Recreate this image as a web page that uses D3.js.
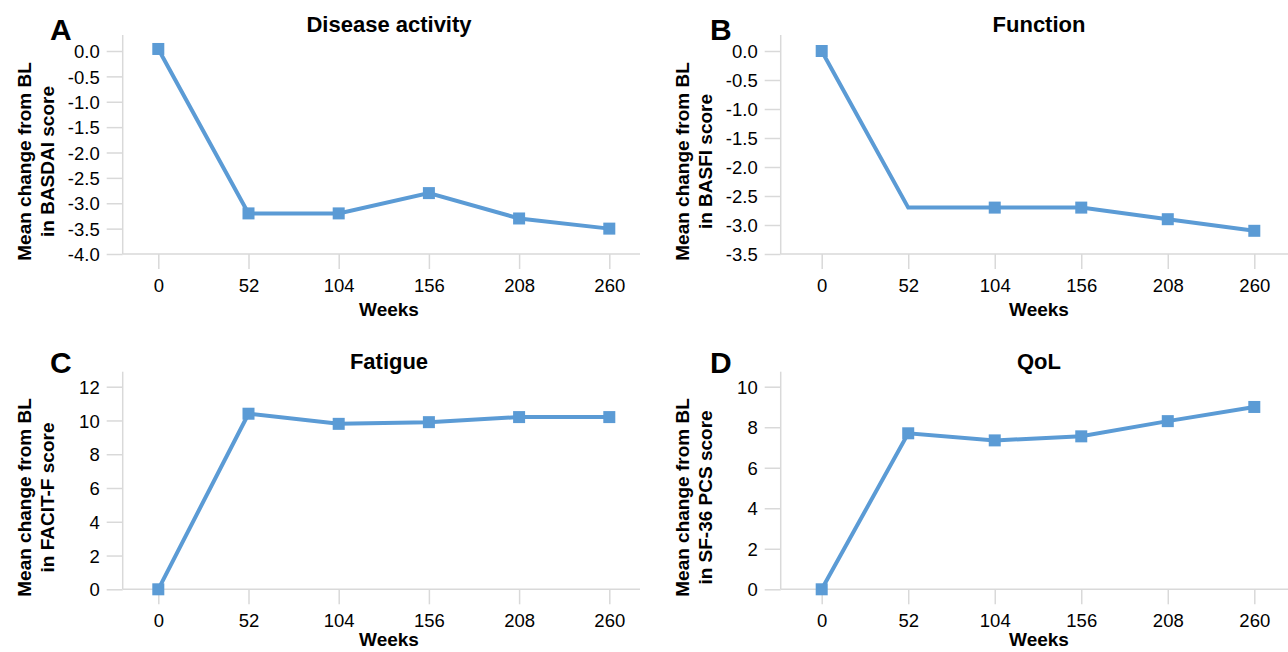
<!DOCTYPE html>
<html>
<head>
<meta charset="utf-8">
<script src="https://cdn.jsdelivr.net/npm/d3@7"></script>
<style>
body { margin: 0; background: #fff; }
svg { display: block; font-family: "Liberation Sans", Arial, sans-serif; }
</style>
</head>
<body>
<script>
// data
var weeks = [0, 52, 104, 156, 208, 260];
var basdai = [0.04, -3.2, -3.2, -2.8, -3.3, -3.5];
var basfi = [0, -2.7, -2.7, -2.7, -2.9, -3.1];
var facit = [0, 10.4, 9.8, 9.9, 10.2, 10.2];
var sf36 = [0, 7.7, 7.35, 7.55, 8.3, 9.0];
// panel B has no marker at week 52
var basfiMarkers = [true, false, true, true, true, true];

var basdaiTicks = [-4, -3.5, -3, -2.5, -2, -1.5, -1, -0.5, 0];
var basfiTicks = [-3.5, -3, -2.5, -2, -1.5, -1, -0.5, 0];
var facitTicks = [0, 2, 4, 6, 8, 10, 12];
var sf36Ticks = [0, 2, 4, 6, 8, 10];

var letters = ["A", "B", "C", "D"];
var titles = ["Disease activity", "Function", "Fatigue", "QoL"];
var yTitles = [
	["Mean change from BL", "in BASDAI score"],
	["Mean change from BL", "in BASFI score"],
	["Mean change from BL", "in FACIT-F score"],
	["Mean change from BL", "in SF-36 PCS score"]
];

var blue = "#5b9bd5";
var grey = "#d9d9d9";

var W = 1288, H = 652;
var svg = d3.select("body").append("svg").attr("width", W).attr("height", H);

function fmt1(d) { return d.toFixed(1); }
function fmt0(d) { return String(d); }

//panel geometry (left column / right column, top row / bottom row)
var cols = [
	{ axisX: 122.7, x0: 158.3, x1: 609.3, right: 640, cx: 389, letterX: 50 },
	{ axisX: 780.7, x0: 821.7, x1: 1254.3, right: 1288, cx: 1039, letterX: 710 }
];
var rows = [
	{ bottom: 254, topTick: 51, top: 35, titleY: 31.7, letterY: 40, weeksY: 316 },
	{ bottom: 589.3, topTick: 386.7, top: 371.7, titleY: 369.3, letterY: 373, weeksY: 646 }
];

var panels = [
	{ values: basdai, ticks: basdaiTicks, fmt: fmt1, markers: null, col: 0, row: 0 },
	{ values: basfi, ticks: basfiTicks, fmt: fmt1, markers: basfiMarkers, col: 1, row: 0 },
	{ values: facit, ticks: facitTicks, fmt: fmt0, markers: null, col: 0, row: 1 },
	{ values: sf36, ticks: sf36Ticks, fmt: fmt0, markers: null, col: 1, row: 1 }
];

panels.forEach(function(p, i) {
	var c = cols[p.col], r = rows[p.row];
	var g = svg.append("g");

	var x = d3.scaleLinear().domain([0, 260]).range([c.x0, c.x1]);
	var y = d3.scaleLinear().domain([p.ticks[0], p.ticks[p.ticks.length - 1]]).range([r.bottom, r.topTick]);

	//axis lines
	g.append("line").attr("x1", c.axisX).attr("x2", c.axisX).attr("y1", r.top).attr("y2", r.bottom)
		.attr("stroke", grey).attr("stroke-width", 1.5);
	g.append("line").attr("x1", c.axisX).attr("x2", c.right).attr("y1", r.bottom).attr("y2", r.bottom)
		.attr("stroke", grey).attr("stroke-width", 1.5);

	//y axis
	var ya = g.append("g").attr("transform", "translate(" + c.axisX + ",0)")
		.call(d3.axisLeft(y).tickValues(p.ticks).tickFormat(p.fmt).tickSize(16).tickPadding(7));
	ya.select(".domain").remove();
	ya.selectAll(".tick line").attr("stroke", grey).attr("stroke-width", 1.5);
	ya.selectAll(".tick text").attr("fill", "#000").style("font-size", "18.5px")
		.style("font-family", "'Liberation Sans', Arial, sans-serif").attr("dy", "0.36em");

	//x axis
	var xa = g.append("g").attr("transform", "translate(0," + r.bottom + ")")
		.call(d3.axisBottom(x).tickValues(weeks).tickFormat(fmt0).tickSize(15).tickPadding(10));
	xa.select(".domain").remove();
	xa.selectAll(".tick line").attr("stroke", grey).attr("stroke-width", 1.5);
	xa.selectAll(".tick text").attr("fill", "#000").style("font-size", "18.5px")
		.style("font-family", "'Liberation Sans', Arial, sans-serif");

	//axis titles
	g.append("text").attr("x", c.cx).attr("y", r.weeksY).attr("text-anchor", "middle")
		.style("font-size", "19px").style("font-weight", "bold").text("Weeks");

	var cy = (r.top + r.bottom) / 2 + 17;
	var yt = g.append("g").attr("transform", "translate(0," + cy + ") rotate(-90)");
	yt.append("text").attr("x", 0).attr("y", c.axisX - 92).attr("text-anchor", "middle")
		.style("font-size", "19px").style("font-weight", "bold").text(yTitles[i][0]);
	yt.append("text").attr("x", 0).attr("y", c.axisX - 69).attr("text-anchor", "middle")
		.style("font-size", "19px").style("font-weight", "bold").text(yTitles[i][1]);

	//title and panel letter
	g.append("text").attr("x", c.cx).attr("y", r.titleY).attr("text-anchor", "middle")
		.style("font-size", "22px").style("font-weight", "bold").text(titles[i]);
	g.append("text").attr("x", c.letterX).attr("y", r.letterY)
		.style("font-size", "30px").style("font-weight", "bold").text(letters[i]);

	//line and markers
	var pts = weeks.map(function(w, k) { return { w: w, v: p.values[k], show: p.markers ? p.markers[k] : true }; });
	var line = d3.line().x(function(d) { return x(d.w); }).y(function(d) { return y(d.v); });
	g.append("path").datum(pts).attr("d", line).attr("fill", "none")
		.attr("stroke", blue).attr("stroke-width", 4).attr("stroke-linejoin", "miter");

	var s = 12;
	g.selectAll("rect.m").data(pts.filter(function(d) { return d.show; })).enter()
		.append("rect").attr("class", "m")
		.attr("x", function(d) { return x(d.w) - s / 2; })
		.attr("y", function(d) { return y(d.v) - s / 2; })
		.attr("width", s).attr("height", s)
		.attr("fill", blue);
});
</script>
</body>
</html>
